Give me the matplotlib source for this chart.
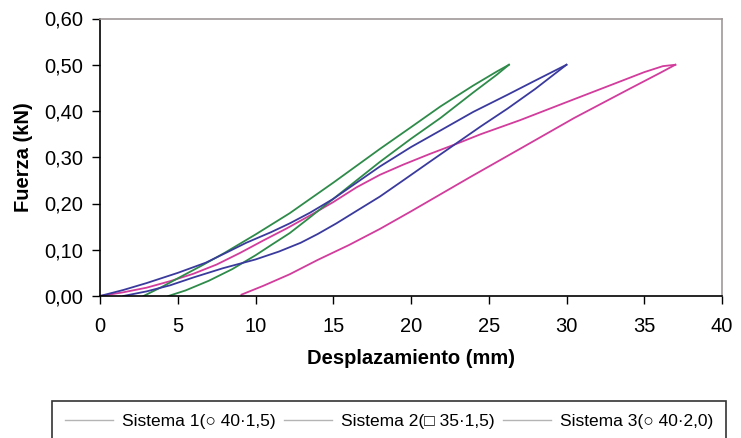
import matplotlib
matplotlib.use("Agg")
import matplotlib.pyplot as plt
from matplotlib.lines import Line2D
from matplotlib.ticker import FuncFormatter

plt.rcParams['font.family'] = ['Liberation Sans', 'DejaVu Sans']

# Sistema 1 (magenta): rama superior (carga) y rama inferior (descarga)
s1_up_x = [0, 1.5, 3, 4.5, 6, 7.5, 9, 10.5, 12, 13.5, 15, 16.5, 18, 19.5, 21.2, 23, 24.5, 27, 30.3, 33, 35, 36.2, 37]
s1_up_y = [0, 0.008, 0.018, 0.032, 0.048, 0.068, 0.093, 0.120, 0.146, 0.174, 0.203, 0.235, 0.262,
           0.284, 0.307, 0.330, 0.350, 0.380, 0.423, 0.458, 0.484, 0.497, 0.500]
s1_dn_x = [9.1, 10.5, 12.2, 14, 16, 18, 20, 21.9, 23.8, 27, 30.5, 34, 36, 37]
s1_dn_y = [0.003, 0.022, 0.047, 0.078, 0.110, 0.145, 0.183, 0.220, 0.257, 0.318, 0.385, 0.447, 0.482, 0.500]

# Sistema 2 (verde)
s2_up_x = [2.8, 4, 5.1, 6.5, 8, 10, 12.2, 15, 18, 20, 21.9, 24, 25.5, 26.3]
s2_up_y = [0, 0.020, 0.040, 0.065, 0.093, 0.133, 0.179, 0.245, 0.318, 0.365, 0.410, 0.455, 0.485, 0.500]
s2_dn_x = [4.4, 5.5, 7, 8.5, 10, 11, 12.2, 13.5, 15, 16.5, 18, 20, 21.9, 24, 25.5, 26.3]
s2_dn_y = [0, 0.012, 0.033, 0.058, 0.088, 0.110, 0.136, 0.170, 0.210, 0.250, 0.290, 0.340, 0.385,
           0.440, 0.478, 0.500]

# Sistema 3 (azul)
s3_up_x = [0, 1.5, 3, 5, 6.8, 8.2, 9.4, 11, 12.2, 13.5, 15, 16.5, 18, 20, 21.9, 24, 26.2, 28, 30]
s3_up_y = [0, 0.013, 0.028, 0.050, 0.072, 0.095, 0.115, 0.138, 0.157, 0.180, 0.210, 0.245, 0.280,
           0.322, 0.358, 0.398, 0.435, 0.466, 0.500]
s3_dn_x = [1.5, 3, 4.5, 6, 7.9, 10, 11.5, 12.9, 14, 15.2, 16.5, 18, 19.5, 21.2, 23, 24.5, 26.2, 28, 30]
s3_dn_y = [0, 0.010, 0.023, 0.040, 0.060, 0.079, 0.096, 0.115, 0.134, 0.157, 0.184, 0.215, 0.250,
           0.290, 0.332, 0.367, 0.405, 0.448, 0.500]

labels = ['Sistema 1(\u25cb 40\u00b71,5)', 'Sistema 2(\u25a1 35\u00b71,5)', 'Sistema 3(\u25cb 40\u00b72,0)']

fig = plt.figure(figsize=(7.41, 4.38), dpi=100)
ax = fig.add_axes([100/741, 1-296/438, 622/741, 277.5/438])

ax.plot(s1_up_x, s1_up_y, color='#d23c9c', lw=1.3)
ax.plot(s1_dn_x, s1_dn_y, color='#d23c9c', lw=1.3)
ax.plot(s2_up_x, s2_up_y, color='#2e8b4a', lw=1.3)
ax.plot(s2_dn_x, s2_dn_y, color='#2e8b4a', lw=1.3)
ax.plot(s3_up_x, s3_up_y, color='#3a3a9e', lw=1.3)
ax.plot(s3_dn_x, s3_dn_y, color='#3a3a9e', lw=1.3)

ax.set_xlim(0, 40)
ax.set_ylim(0, 0.6)
ax.set_xticks(range(0, 41, 5))
ax.set_yticks([0, 0.1, 0.2, 0.3, 0.4, 0.5, 0.6])
ax.yaxis.set_major_formatter(FuncFormatter(lambda v, p: ('%.2f' % v).replace('.', ',')))
ax.tick_params(direction='out', length=6, width=1, labelsize=14.5)
ax.tick_params(axis='x', pad=9)
ax.tick_params(axis='y', pad=6)

for s in ['top', 'right']:
    ax.spines[s].set_color('#a09898')
    ax.spines[s].set_linewidth(1.2)
for s in ['left', 'bottom']:
    ax.spines[s].set_color('black')
    ax.spines[s].set_linewidth(1.2)

ax.set_xlabel('Desplazamiento (mm)', fontsize=14.5, fontweight='bold', labelpad=9.5)
ax.set_ylabel('Fuerza (kN)', fontsize=14.5, fontweight='bold', labelpad=8)

handles = [Line2D([], [], color='#b4b4b4', lw=1) for _ in labels]
leg = fig.legend(handles, labels, loc='upper left', ncol=3, mode='expand',
                 bbox_to_anchor=(43/741, -0.1, 692/741, 0.1 + 46/438),
                 fancybox=False, frameon=True, borderpad=0.75, handlelength=2.8,
                 handletextpad=0.5, columnspacing=0.8, prop={'size': 12.5})
leg.get_frame().set_edgecolor('black')
leg.get_frame().set_linewidth(1.2)

fig.savefig('out.png', dpi=100)
